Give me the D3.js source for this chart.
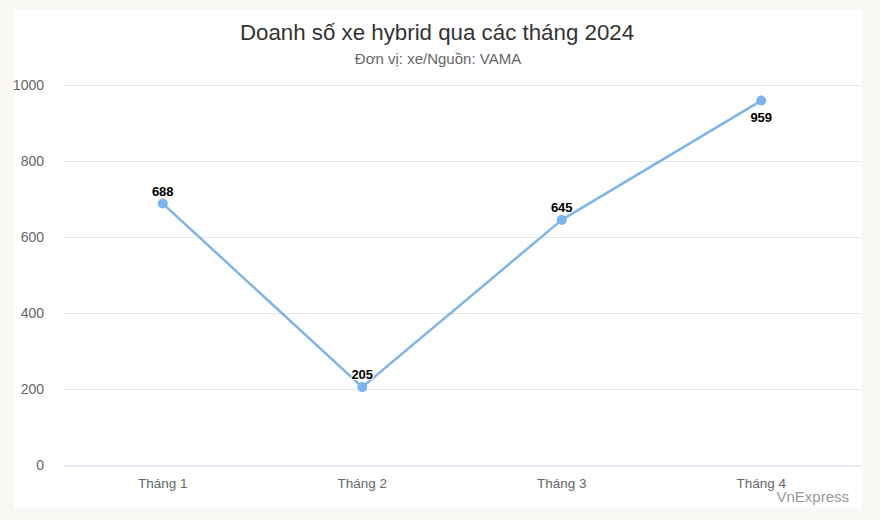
<!DOCTYPE html>
<html><head><meta charset="utf-8">
<script src="https://cdn.jsdelivr.net/npm/d3@7"></script>
<style>
html,body{margin:0;padding:0;background:#f9f8f4;}
svg{display:block;font-family:"Liberation Sans",Arial,Helvetica,sans-serif;}
</style></head>
<body><svg id="c" width="880" height="520"></svg>
<script>
const categories = ["Tháng 1","Tháng 2","Tháng 3","Tháng 4"];
const values = [688, 205, 645, 959];
const yTicks = [0, 200, 400, 600, 800, 1000];
const labelBelow = [false, false, false, true];

(function(){
const svg = d3.select("#c");
svg.append("rect").attr("x",14).attr("y",10).attr("width",848).attr("height",498).attr("fill","#fff");

const mLeft = 63, mRight = 861, mTop = 85, mBottom = 465;
const x = d3.scaleBand().domain(categories).range([mLeft, mRight]);
const y = d3.scaleLinear().domain([0, 1000]).range([mBottom, mTop]);

// grid
svg.append("g").selectAll("line").data(yTicks.filter(d=>d>0)).join("line")
  .attr("x1", mLeft).attr("x2", mRight)
  .attr("y1", d=>y(d)+0.5).attr("y2", d=>y(d)+0.5)
  .attr("stroke","#e6e6e6").attr("stroke-width",1);

// y axis labels
const ya = svg.append("g").attr("transform",`translate(${mLeft-19},0)`)
  .call(d3.axisLeft(y).tickValues(yTicks).tickFormat(d3.format("d")).tickSize(0).tickPadding(0));
ya.select(".domain").remove();
ya.selectAll("text").attr("fill","#666").style("font-size","14px")
  .attr("font-family","'Liberation Sans',Arial,sans-serif");

// x axis
const xa = svg.append("g").attr("transform",`translate(0,${mBottom+0.5})`)
  .call(d3.axisBottom(x).tickSize(0).tickPadding(13));
xa.select(".domain").attr("stroke","#ccd6eb");
xa.selectAll("text").attr("fill","#666").style("font-size","13.5px")
  .attr("font-family","'Liberation Sans',Arial,sans-serif");

// line
const cx = d => x(d) + x.bandwidth()/2;
const pts = categories.map((c,i)=>({c, v: values[i], below: labelBelow[i]}));
svg.append("path").datum(pts)
  .attr("d", d3.line().x(d=>cx(d.c)).y(d=>y(d.v)))
  .attr("fill","none").attr("stroke","#7cb5ec").attr("stroke-width",2.5)
  .attr("stroke-linejoin","round").attr("stroke-linecap","round");

svg.append("g").selectAll("circle").data(pts).join("circle")
  .attr("cx", d=>cx(d.c)).attr("cy", d=>y(d.v)).attr("r",5)
  .attr("fill","#7cb5ec");

svg.append("g").selectAll("text").data(pts).join("text")
  .attr("x", d=>cx(d.c)).attr("y", d=>d.below ? y(d.v)+21 : y(d.v)-8)
  .attr("text-anchor","middle")
  .attr("font-size","13px").attr("font-weight","bold")
  .attr("fill","#000").attr("stroke","#fff").attr("stroke-width",2)
  .attr("stroke-linejoin","round").attr("paint-order","stroke")
  .text(d=>d.v);

// title
svg.append("text").attr("x",437).attr("y",40).attr("text-anchor","middle")
  .attr("fill","#333").attr("font-size","22.3px").text("Doanh số xe hybrid qua các tháng 2024");
svg.append("text").attr("x",438).attr("y",64).attr("text-anchor","middle")
  .attr("fill","#666").attr("font-size","15px").text("Đơn vị: xe/Nguồn: VAMA");

// credit
svg.append("text").attr("x",849).attr("y",502).attr("text-anchor","end")
  .attr("fill","#999").attr("font-size","15px").text("VnExpress");
})();
</script></body></html>
